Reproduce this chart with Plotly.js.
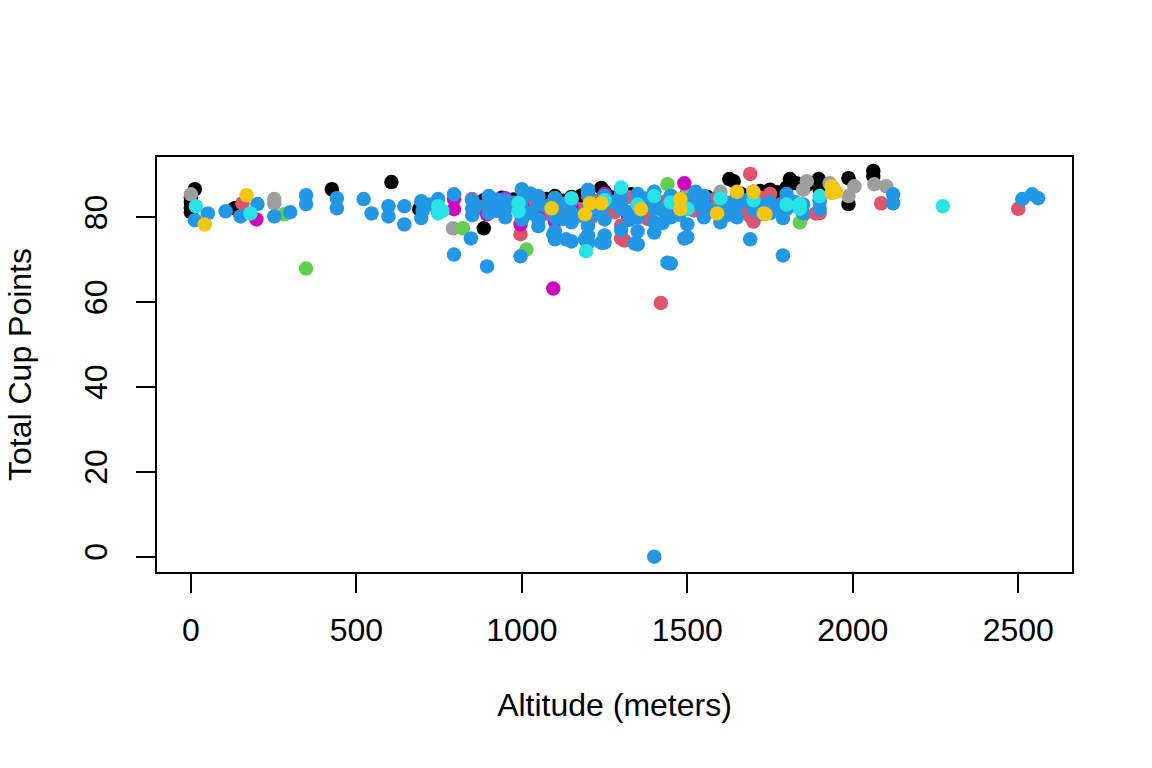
<!DOCTYPE html>
<html>
<head>
<meta charset="utf-8">
<script src="https://cdn.plot.ly/plotly-3.0.1.min.js"></script>
<style>
  html, body { margin: 0; padding: 0; background: #fff; }
  #plot { width: 1152px; height: 768px; }
</style>
</head>
<body>
<div id="plot"></div>
<script>
// altitude (m) / total cup points, one pair of arrays per colour group
var blackAlt = [0, 0, 0, 0, 12, 132, 426, 606, 690, 885, 885, 900, 915, 930, 950, 975, 1000, 1050, 1100, 1150, 1200, 1240, 1250, 1300, 1350, 1400, 1450, 1500, 1627, 1640, 1700, 1750, 1800, 1810, 1830, 1897, 1900, 1987, 1987, 2062, 2062,
  870, 905, 940, 960, 1020, 1075, 1125, 1180, 1270, 1330, 1560, 1660, 1720, 1770, 1860];
var blackPts = [84.6, 83.6, 82.1, 81.2, 86.6, 82.1, 86.6, 88.3, 81.9, 84.0, 77.4, 84.5, 83.5, 84.0, 83.3, 84.2, 84.5, 84.5, 85.0, 84.8, 85.5, 86.9, 86.0, 84.0, 85.0, 84.5, 85.0, 85.8, 89.0, 88.5, 86.0, 86.5, 87.0, 89.0, 88.0, 89.0, 86.5, 89.2, 83.1, 90.9, 89.7,
  83.0, 83.8, 84.6, 82.8, 83.6, 84.3, 83.9, 85.1, 84.7, 85.4, 84.8, 85.6, 86.2, 85.9, 87.5];

var grayAlt = [0, 252, 252, 792, 1300, 1400, 1600, 1700, 1850, 1861, 1930, 1940, 1987, 2005, 2065, 2101, 1500, 1550];
var grayPts = [85.4, 84.3, 83.3, 77.4, 85.0, 86.0, 86.0, 85.5, 86.5, 88.5, 88.0, 87.0, 85.0, 87.3, 87.8, 87.3, 85.5, 84.5];

var redAlt = [156, 849, 860, 996, 1000, 1050, 1100, 1150, 1200, 1210, 1250, 1250, 1300, 1300, 1300, 1310, 1350, 1350, 1400, 1420, 1450, 1450, 1500, 1550, 1600, 1650, 1690, 1690, 1700, 1750, 1800, 1850, 1888, 1900, 2086, 2500,
  880, 920, 1030, 1080, 1130, 1175, 1225, 1280, 1320, 1370, 1380, 1430, 1470, 1520, 1580, 1620, 1680, 1720, 1780, 1830];
var redPts = [83.3, 84.3, 82.0, 76.0, 80.0, 82.0, 84.0, 83.0, 85.0, 80.0, 82.0, 84.5, 75.0, 78.0, 83.0, 74.5, 84.0, 80.0, 83.0, 59.8, 85.0, 81.0, 84.0, 83.0, 82.0, 85.0, 90.2, 80.2, 79.0, 85.5, 84.0, 80.5, 80.9, 81.0, 83.3, 82.0,
  82.5, 81.5, 83.2, 80.8, 82.6, 81.7, 83.8, 81.2, 84.8, 82.4, 79.6, 83.6, 82.8, 81.6, 84.2, 83.4, 82.2, 84.6, 83.0, 82.6];

var magentaAlt = [198, 795, 795, 895, 950, 996, 1000, 1050, 1095, 1100, 1200, 1250, 1300, 1350, 1400, 1491, 1600, 1150, 1320, 1550];
var magentaPts = [79.5, 84.3, 81.9, 80.7, 84.5, 78.3, 83.0, 80.0, 63.2, 79.0, 86.0, 85.5, 86.5, 82.0, 84.0, 88.0, 84.0, 82.5, 80.5, 83.5];

var greenAlt = [282, 348, 822, 950, 1014, 1100, 1300, 1440, 1500, 1600, 1840, 1900];
var greenPts = [80.7, 67.9, 77.4, 83.0, 72.4, 84.5, 84.0, 87.8, 84.5, 83.0, 78.8, 83.5];

var blueAlt = [12, 51, 105, 150, 201, 252, 300, 348, 348, 441, 441, 522, 546, 597, 597, 645, 645, 696, 696, 747, 795, 795, 846, 895, 996, 1095, 1134, 1191, 1240, 1341, 1400, 1440, 1450, 1491, 1690, 1789, 1789, 2122, 2122, 2512, 2542, 2560,
  850, 850, 850, 900, 900, 900, 950, 950, 950, 1000, 1000, 1000, 1000, 1050, 1050, 1050, 1050,
  1100, 1100, 1100, 1100, 1100, 1150, 1150, 1150, 1150, 1200, 1200, 1200, 1200, 1200, 1200,
  1250, 1250, 1250, 1250, 1250, 1300, 1300, 1300, 1300, 1350, 1350, 1350, 1350, 1350,
  1400, 1400, 1400, 1400, 1400, 1450, 1450, 1450, 1500, 1500, 1500, 1500, 1550, 1550, 1550,
  1600, 1600, 1600, 1650, 1650, 1650, 1700, 1700, 1750, 1750, 1800, 1800, 1800, 1850, 1850, 1900, 1900,
  700, 720, 860, 925, 975, 1025, 1075, 1125, 1175, 1225, 1275, 1325, 1375, 1425, 1475, 1525, 1575, 1625, 1675, 1725, 1775, 1825,
  925, 1025, 1125, 1225, 1325, 1425, 1525, 1625, 1725];
var bluePts = [79.3, 80.9, 81.4, 80.2, 83.1, 80.2, 81.2, 85.2, 83.1, 84.5, 82.1, 84.3, 80.9, 82.6, 80.2, 82.6, 78.3, 83.8, 79.8, 84.3, 85.4, 71.2, 75.0, 68.4, 70.8, 76.0, 74.8, 74.8, 74.0, 73.8, 0.0, 69.3, 69.1, 75.0, 74.8, 79.8, 71.0, 85.4, 83.3, 84.3, 85.4, 84.5,
  82.0, 84.0, 80.5, 83.0, 81.0, 85.0, 82.0, 80.0, 84.0, 86.6, 79.5, 84.0, 82.0, 79.5, 77.9, 83.0, 85.0,
  76.7, 74.8, 82.0, 84.5, 80.0, 78.8, 74.3, 81.0, 84.0, 75.7, 74.0, 82.0, 85.5, 78.0, 86.5,
  79.5, 75.7, 74.0, 83.0, 85.0, 82.0, 77.0, 84.0, 86.0, 76.7, 73.6, 80.0, 83.0, 85.5,
  78.8, 76.4, 82.0, 84.0, 86.0, 80.0, 83.0, 85.0, 78.3, 75.3, 82.0, 84.0, 80.0, 83.0, 85.0,
  78.8, 82.0, 84.5, 80.0, 83.0, 85.0, 82.0, 84.0, 81.0, 83.5, 82.0, 84.0, 85.5, 83.0, 81.0, 82.0, 84.0,
  81.5, 83.0, 82.8, 81.6, 83.4, 81.0, 82.6, 83.2, 80.4, 81.8, 83.6, 81.2, 84.4, 81.6, 80.6, 83.0, 81.4, 82.8, 84.0, 80.8, 82.4, 83.6,
  84.2, 85.6, 79.6, 80.8, 79.4, 78.6, 86.0, 80.6, 82.8];

var cyanAlt = [15, 180, 747, 747, 760, 990, 990, 1150, 1194, 1300, 1350, 1400, 1500, 1600, 1700, 1800, 1840, 1840, 1900, 2272, 1250, 1450];
var cyanPts = [82.6, 80.9, 82.6, 80.9, 81.5, 83.3, 81.4, 84.5, 72.0, 87.0, 83.0, 85.0, 82.0, 84.5, 84.0, 83.0, 83.1, 82.0, 85.0, 82.6, 84.0, 83.5];

var yellowAlt = [42, 168, 1090, 1191, 1206, 1240, 1360, 1479, 1479, 1590, 1650, 1700, 1731, 1736, 1936, 1936, 1950];
var yellowPts = [78.3, 85.2, 82.1, 80.7, 83.3, 83.3, 81.9, 84.3, 81.9, 80.9, 86.0, 86.0, 80.9, 80.7, 87.3, 85.7, 86.0];

var groups = [
  [blackAlt, blackPts, '#000000'],
  [grayAlt, grayPts, '#9E9E9E'],
  [redAlt, redPts, '#DF536B'],
  [magentaAlt, magentaPts, '#CD0BBC'],
  [greenAlt, greenPts, '#61D04F'],
  [blueAlt, bluePts, '#2297E6'],
  [cyanAlt, cyanPts, '#28E2E5'],
  [yellowAlt, yellowPts, '#F5C710']
];

var data = [];
for (var i = 0; i < groups.length; i++) {
  data.push({
    x: groups[i][0],
    y: groups[i][1],
    type: 'scatter',
    mode: 'markers',
    marker: {color: groups[i][2], size: 14.5},
    hoverinfo: 'x+y'
  });
}

var fnt = {family: 'Liberation Sans, Arial, sans-serif', size: 32, color: '#000'};

var layout = {
  width: 1152,
  height: 768,
  showlegend: false,
  paper_bgcolor: '#fff',
  plot_bgcolor: '#fff',
  margin: {l: 157, r: 80, t: 157, b: 196},
  font: fnt,
  xaxis: {
    range: [-102.4, 2662.4],
    tickvals: [0, 500, 1000, 1500, 2000, 2500],
    ticks: 'outside', ticklen: 19, tickwidth: 1.5, tickcolor: '#000',
    ticklabelstandoff: 10,
    showline: true, mirror: true, linecolor: '#000', linewidth: 1.5,
    showgrid: false, zeroline: false,
    tickfont: fnt,
    title: {text: 'Altitude (meters)', font: fnt, standoff: 46}
  },
  yaxis: {
    range: [-3.6, 94.2],
    tickvals: [0, 20, 40, 60, 80],
    tickangle: -90,
    ticks: 'outside', ticklen: 19, tickwidth: 1.5, tickcolor: '#000',
    ticklabelstandoff: 16,
    showline: true, mirror: true, linecolor: '#000', linewidth: 1.5,
    showgrid: false, zeroline: false,
    tickfont: fnt,
    title: {text: 'Total Cup Points', font: fnt, standoff: 37}
  }
};

Plotly.newPlot('plot', data, layout, {displayModeBar: false});
</script>
</body>
</html>
